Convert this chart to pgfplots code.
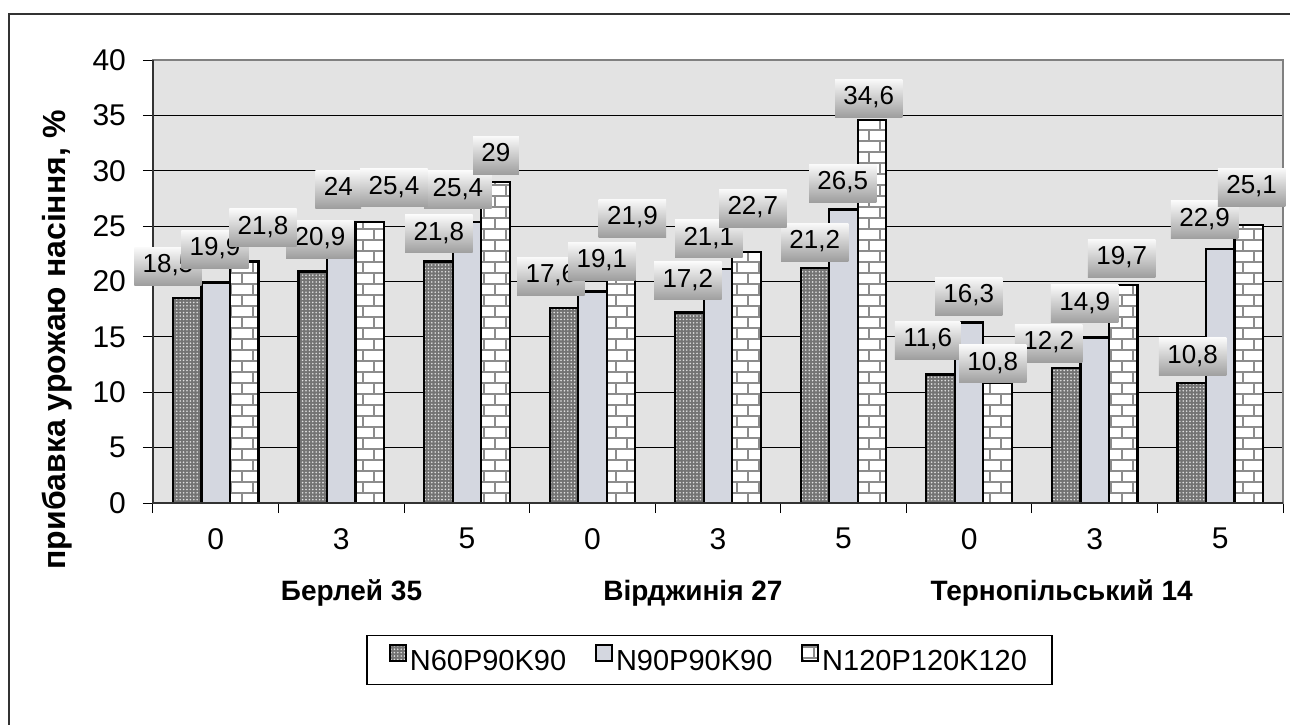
\documentclass[border=0pt]{standalone}
\usepackage{fontspec}
\setmainfont{Liberation Sans}
\usepackage{pgfplots}
\usepackage{pgfplotstable}
\pgfplotsset{compat=1.18}
\usetikzlibrary{patterns,patterns.meta}

% brick wall fill for the third series
\pgfdeclarepatternformonly{brickwall}{\pgfqpoint{-0.6pt}{-0.6pt}}{\pgfqpoint{11.6pt}{11.6pt}}{\pgfqpoint{11pt}{11pt}}{%
  \pgfsetlinewidth{1pt}%
  \pgfpathmoveto{\pgfqpoint{0pt}{0pt}}\pgfpathlineto{\pgfqpoint{11pt}{0pt}}%
  \pgfpathmoveto{\pgfqpoint{0pt}{5.5pt}}\pgfpathlineto{\pgfqpoint{11pt}{5.5pt}}%
  \pgfpathmoveto{\pgfqpoint{0pt}{0pt}}\pgfpathlineto{\pgfqpoint{0pt}{5.5pt}}%
  \pgfpathmoveto{\pgfqpoint{5.5pt}{5.5pt}}\pgfpathlineto{\pgfqpoint{5.5pt}{11pt}}%
  \pgfusepath{stroke}%
}

\definecolor{marble}{RGB}{212,215,224}

% yield gain per variety/dose; dx, dy = label offsets (pt)
\pgfplotstableread{
x  a     adx    ady   b     bdx   bdy   c     cdx   cdy
0  18.5  -23.9  16.0  19.9  -0.4  16.8  21.8  23.6  16.8
1  20.9  -10.7  16.2  24    -1.5  24.1  25.4  26.3  16.9
2  21.8  -14.0  13.8  25.4  -4.5  15.9  29    14.5  13.4
3  17.6  -20.8  16.0  19.1   4.7  15.2  21.9  20.0  21.2
4  17.2  -15.1  15.8  21.1  -4.6  15.2  22.7  17.4  21.8
5  21.2  -14.4  13.1  26.5  -0.4  13.2  34.6  12.6  10.9
6  11.6  -20.7  17.2  16.3  -0.2  13.2  10.8  11.8   9.7
7  12.2  -23.0  12.4  14.9  -5.0  17.0  19.7  13.5  13.4
8  10.8  -13.8  13.2  22.9  -7.8  14.7  25.1  15.7  19.0
}\yielddata

\pgfplotsset{
  sqlegend/.style={legend image code/.code={%
      \draw[##1, line width=0.9pt, draw=black] (0pt,0.4pt) rectangle (8pt,8.4pt);}},
  barbase/.style={ybar, bar width=14.25pt, draw=black, line width=1.1pt},
  vlabel/.style n args={2}{forget plot, draw=none, mark=none,
    visualization depends on={\thisrow{#1} \as \ldx},
    visualization depends on={\thisrow{#2} \as \ldy},
    point meta=y,
    nodes near coords={\pgfmathprintnumber[fixed,precision=1,use comma,assume math mode=true]{\pgfplotspointmeta}},
    every node near coord/.style={anchor=center, xshift=\ldx, yshift=\ldy,
      font=\fontsize{13}{15}\selectfont, text=black,
      inner xsep=4.2pt, inner ysep=3.5pt, text height=9.4pt, text depth=2.6pt,
      top color=black!2, middle color=black!8, bottom color=black!38}},
}

\begin{document}
\begin{tikzpicture}
\path[use as bounding box] (-76.5pt,-110.5pt) rectangle (568.5pt,251.5pt);
\draw[black!80, line width=0.9pt] (-72pt,-112pt) -- (-72pt,244.5pt) -- (570pt,244.5pt);
\begin{axis}[
  at={(0pt,0pt)}, anchor=south west,
  scale only axis, width=565pt, height=221.5pt,
  xmin=-0.5, xmax=8.5, ymin=0, ymax=40,
  clip=false,
  axis background/.style={fill=black!11},
  axis line style={draw=black!50, line width=1pt},
  ymajorgrids, grid style={black, line width=0.5pt},
  tick pos=left, tick align=outside,
  major tick length=5pt,
  ytick={0,5,...,40},
  ytick style={black, line width=0.5pt},
  xtick={-0.5,0.5,...,8.5},
  xticklabels=\empty,
  xtick style={black, line width=0.5pt},
  extra x ticks={0,1,2,3,4,5,6,7,8},
  extra x tick labels={0,3,5,0,3,5,0,3,5},
  extra x tick style={major tick length=0pt},
  ticklabel style={font=\fontsize{15}{18}\selectfont},
  yticklabel style={xshift=-5pt},
  xticklabel style={yshift=-9pt},
  /pgf/number format/assume math mode=true,
  ylabel={прибавка урожаю насіння, \%},
  ylabel style={font=\bfseries\fontsize{16}{19}\selectfont,
    at={(axis description cs:-0.085,0.368)}, anchor=center},
  legend columns=3,
  legend cell align=left,
  legend style={at={(axis description cs:0.4925,-0.3544)}, anchor=center,
    draw=black, line width=0.6pt, fill=white,
    font=\fontsize{14.5}{17}\selectfont,
    inner xsep=11pt, inner ysep=4pt,
    nodes={inner xsep=1.5pt, inner ysep=1.5pt},
    /tikz/every even column/.append style={column sep=13pt}},
]
\addplot[barbase, bar shift=-14.25pt, sqlegend,
  preaction={fill=black!55}, pattern={Dots[distance=1.7pt, radius=0.45pt]}, pattern color=black!12]
  table[x=x, y=a] {\yielddata};
\addlegendentry{N60P90K90}
\addplot[barbase, bar shift=0pt, sqlegend, fill=marble]
  table[x=x, y=b] {\yielddata};
\addlegendentry{N90P90K90}
\addplot[barbase, bar shift=14.25pt, sqlegend,
  preaction={fill=white}, pattern=brickwall, pattern color=black!45]
  table[x=x, y=c] {\yielddata};
\addlegendentry{N120P120K120}

\addplot[vlabel={adx}{ady}] table[x=x, y=a] {\yielddata};
\addplot[vlabel={bdx}{bdy}] table[x=x, y=b] {\yielddata};
\addplot[vlabel={cdx}{cdy}] table[x=x, y=c] {\yielddata};

\draw[black!80, line width=0.9pt] (rel axis cs:0,1) -- (rel axis cs:0,0) -- (rel axis cs:1,0);

\node[font=\bfseries\fontsize{14}{17}\selectfont, yshift=-45pt] at (axis cs:1.081,0) {Берлей 35};
\node[font=\bfseries\fontsize{14}{17}\selectfont, yshift=-45pt] at (axis cs:3.8,0) {Вірджинія 27};
\node[font=\bfseries\fontsize{14}{17}\selectfont, yshift=-45pt] at (axis cs:6.737,0) {Тернопільський 14};
\end{axis}
\end{tikzpicture}
\end{document}
